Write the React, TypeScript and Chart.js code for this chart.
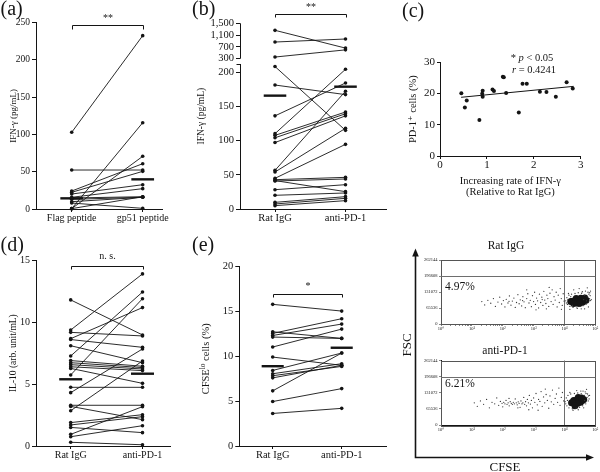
import React, { useEffect, useRef } from 'react';
import { Chart, registerables } from 'chart.js';

Chart.register(...registerables);

const SERIF = "'Liberation Serif', 'Times New Roman', 'DejaVu Serif', serif";
const INK = '#141414';

// ---------------- (a) ----------------
const aCategories = ['Flag peptide', 'gp51 peptide'];
const aFlag = [102.9, 52.3, 24.1, 22.4, 20.1, 15.7, 14.8, 13.0, 9.8, 8.0, 0.5, 0.5, 0.5];
const aGp51 = [232.6, 52.3, 60.8, 50.5, 32.6, 27.3, 16.5, 15.7, 15.7, 0.9, 115.8, 70.7, 16.5];
const aMedian = [14.3, 39.8];
const aYTicks = [0, 50, 100, 150, 200, 250];
const aYLabels = ['0', '50', '100', '150', '200', '250'];

// ---------------- (b) ----------------
const bCategories = ['Rat IgG', 'anti-PD-1'];
const bRat = [1262, 866, 357, 208, 181, 136, 110, 107.5, 104, 97, 56.4, 54, 44.8, 42.8, 40.9, 41.5, 28.2, 20, 9.7, 7.3, 4.9];
const bAnti = [660, 968, 600, 114.8, 167, 184, 204, 141.6, 139, 136, 172, 117.8, 94.4, 46.2, 43.8, 25.3, 35.5, 23.4, 18, 15.6, 12.2];
const bMedian = [165.5, 178.6];
const bYTicks = [0, 50, 100, 150, 200, 300, 700, 1100, 1500];
const bYLabels = ['0', '50', '100', '150', '200', '300', '700', '1,100', '1,500'];

// ---------------- (c) ----------------
const cX = [0.455, 0.53, 0.57, 0.84, 0.91, 0.9, 0.91, 1.12, 1.15, 1.34, 1.36, 1.41, 1.68, 1.76, 1.85, 2.13, 2.27, 2.47, 2.7, 2.83];
const cY = [20.1, 15.5, 17.8, 11.5, 20.9, 19.9, 19.0, 21.3, 20.8, 25.4, 25.2, 20.2, 13.9, 23.1, 23.1, 20.6, 20.5, 19.0, 23.6, 21.6];
const cFitX = [0.45, 2.85];
const cFitY = [18.8, 22.3];
const cXTicks = [0, 1, 2, 3];
const cYTicks = [0, 10, 20, 30];

// ---------------- (d) ----------------
const dRat = [11.8, 9.37, 9.18, 8.67, 8.6, 8.1, 7.27, 6.9, 6.73, 6.57, 6.4, 6.27, 5.74, 4.74, 4.31, 3.29, 3.2, 2.85, 1.89, 1.7, 1.5, 0.94, 0.75, 0.3];
const dAnti = [8.97, 13.9, 8.89, 11.18, 7.97, 6.73, 12.44, 6.44, 6.33, 6.22, 6.09, 5.06, 11.9, 4.74, 7.84, 3.29, 2.13, 6.87, 2.53, 2.37, 1.08, 3.18, 1.64, 0.1];
const dMedian = [5.39, 5.84];
const dYTicks = [0, 5, 10, 15];

// ---------------- (e) ----------------
const eRat = [15.8, 12.74, 12.56, 12.33, 12.15, 11.04, 9.92, 8.43, 8.06, 7.84, 7.6, 6.15, 4.96, 3.63];
const eAnti = [15.05, 12.0, 14.2, 13.6, 12.0, 13.04, 9.0, 10.37, 9.18, 8.88, 9.0, 10.37, 6.4, 4.2];
const eMedian = [8.9, 10.96];
const eYTicks = [0, 5, 10, 15, 20];

// ---------------- flow cytometry ----------------
const flowXTickValues = [1, 10, 100, 1000, 10000, 100000];
const flowXTickLabels = ['10⁰', '10¹', '10²', '10³', '10⁴', '10⁵'];
const flowYTickValues = [0, 65536, 131072, 196608, 262144];
const flowYTickLabels = ['0', '65536', '131072', '196608', '262144'];
const flowGateX = 10000;
const flowGateY = 196608;
const flowTitles = ['Rat IgG', 'anti-PD-1'];
const flowPercents = ['4.97%', '6.21%'];

const flowTopEvents: number[][] = [
  [21, 92000], [26, 78000], [33, 97000], [41, 85000], [50, 104000], [58, 72000], [70, 90000], [80, 110000],
  [92, 82000], [105, 96000], [118, 70000], [130, 101000], [148, 86000], [165, 115000], [185, 77000],
  [205, 94000], [230, 106000], [255, 68000], [280, 88000], [310, 120000], [340, 83000], [370, 99000],
  [410, 74000], [450, 112000], [490, 91000], [540, 67000], [600, 104000], [650, 124000], [710, 86000],
  [780, 97000], [850, 71000], [920, 116000], [1000, 92000], [1080, 130000], [1150, 80000], [1250, 106000],
  [1350, 95000], [1450, 66000], [1550, 122000], [1700, 88000], [1850, 110000], [2000, 76000], [2150, 134000],
  [2300, 98000], [2500, 84000], [2700, 118000], [2900, 104000], [3100, 72000], [3400, 126000], [3700, 92000],
  [4000, 140000], [4300, 80000], [4600, 112000], [5000, 98000], [5400, 130000], [5800, 70000], [6300, 118000],
  [6800, 88000], [7300, 145000], [7900, 104000], [8500, 76000], [9100, 124000], [9700, 94000], [2600, 62000],
  [1200, 58000], [600, 140000], [3200, 150000], [8000, 60000], [160, 93000], [440, 96000], [1900, 100000],
  [11000, 95000], [12000, 108000], [12500, 80000], [14000, 118000], [15000, 72000], [17000, 122000],
  [19000, 68000], [22000, 125000], [25000, 70000], [28000, 128000], [32000, 72000], [36000, 126000],
  [40000, 75000], [45000, 118000], [50000, 80000], [55000, 112000], [60000, 90000], [65000, 104000],
  [70000, 96000], [58000, 130000], [48000, 135000], [13000, 100000], [52000, 95000], [42000, 100000],
  [62000, 122000], [68000, 116000], [74000, 100000], [16000, 112000], [18000, 76000], [38000, 132000],
  [30000, 145000], [55000, 148000], [20000, 140000], [70000, 135000], [45000, 62000], [15000, 60000],
  [11500, 86000], [13500, 125000], [26000, 64000], [60000, 70000], [66000, 128000], [35000, 62000],
];
const flowTopCore: number[][] = [
  [16000, 92000], [19000, 93000], [22000, 88000], [25000, 95000], [28000, 100000], [33000, 94000],
  [38000, 89000], [40000, 101000], [44000, 96000], [50000, 97000], [24000, 104000], [34000, 105000],
  [30000, 84000], [20000, 84000], [46000, 106000],
];
const flowBottomEvents: number[][] = [
  [12, 90000], [15, 76000], [19, 98000], [24, 84000], [30, 104000], [37, 70000], [45, 92000], [55, 86000],
  [64, 110000], [74, 80000], [84, 96000], [95, 88000], [100, 74000], [108, 92000], [118, 86000], [128, 100000],
  [138, 84000], [150, 90000], [162, 78000], [175, 95000], [190, 88000], [205, 84000], [220, 92000], [238, 86000],
  [255, 106000], [275, 90000], [295, 82000], [318, 94000], [340, 88000], [365, 72000], [390, 98000], [420, 86000],
  [450, 90000], [480, 112000], [515, 84000], [550, 95000], [590, 78000], [630, 104000], [680, 90000],
  [730, 120000], [790, 85000], [850, 100000], [920, 70000], [1000, 110000], [1100, 92000], [1200, 128000],
  [1320, 82000], [1450, 104000], [1600, 96000], [1750, 136000], [1900, 76000], [2100, 114000], [2300, 90000],
  [2550, 124000], [2800, 100000], [3100, 68000], [3400, 118000], [3750, 94000], [4100, 142000], [4500, 84000],
  [5000, 108000], [5500, 126000], [6000, 92000], [6600, 150000], [7200, 80000], [7900, 112000], [8600, 132000],
  [9400, 98000], [160, 108000], [310, 70000], [700, 62000], [2400, 146000], [1400, 60000],
  [10500, 95000], [11500, 110000], [12000, 78000], [13000, 120000], [14000, 70000], [16000, 126000],
  [18000, 66000], [21000, 128000], [24000, 68000], [27000, 130000], [31000, 72000], [35000, 127000],
  [39000, 78000], [44000, 120000], [49000, 86000], [54000, 112000], [59000, 98000], [63000, 106000],
  [47000, 135000], [40000, 138000], [56000, 126000], [12500, 100000], [45000, 100000], [34000, 138000],
  [28000, 62000], [11000, 86000], [52000, 145000], [25000, 140000], [60000, 118000],
  [15000, 132000], [42000, 70000], [19000, 60000], [65000, 120000], [13500, 90000], [50000, 128000],
];
const flowBottomCore: number[][] = [
  [17000, 90000], [22000, 84000], [27000, 88000], [33000, 92000], [20000, 100000], [26000, 104000],
  [32000, 108000], [38000, 100000], [24000, 95000], [30000, 96000], [28000, 112000], [22000, 78000],
  [36000, 110000], [42000, 104000],
];

// ---------------- helpers ----------------
type Box = { cw: number; ch: number; left: number; right: number; top: number; bottom: number; xh: number };

function span(p0: number, v0: number, p1: number, v1: number, pa: number, pb: number) {
  const k = (v1 - v0) / (p1 - p0);
  return { min: v0 + (pa - p0) * k, max: v0 + (pb - p0) * k };
}

function layoutFor(b: Box) {
  return { padding: { left: 0, top: b.top, right: b.cw - b.right, bottom: b.ch - b.bottom - b.xh } };
}

const font = (size: number, lineHeight = 1.2) => ({ family: SERIF, size, lineHeight });

function drawText(ctx: CanvasRenderingContext2D, s: string, x: number, y: number, size: number, align: CanvasTextAlign = 'center', style = '') {
  ctx.font = `${style} ${size}px ${SERIF}`;
  ctx.textAlign = align;
  ctx.textBaseline = 'alphabetic';
  ctx.fillStyle = INK;
  ctx.fillText(s, x, y);
}

// parts: [text, style, sizeFactor, rise]
function drawRich(ctx: CanvasRenderingContext2D, parts: any[], cx: number, y: number, size: number) {
  let total = 0;
  parts.forEach(([s, st, f = 1]) => { ctx.font = `${st} ${size * f}px ${SERIF}`; total += ctx.measureText(s).width; });
  let x = cx - total / 2;
  parts.forEach(([s, st, f = 1, rise = 0]) => {
    ctx.font = `${st} ${size * f}px ${SERIF}`;
    ctx.textAlign = 'left';
    ctx.textBaseline = 'alphabetic';
    ctx.fillStyle = INK;
    ctx.fillText(s, x, y - rise);
    x += ctx.measureText(s).width;
  });
}

const half = (v: number) => Math.round(v) + 0.5;

// broken axis for (b)
const B_LOWER_TOP = 211.7;
const B_UPPER_FROM = 300;
const B_UPPER_BASE = 219.4;
const B_UPPER_SCALE = 0.0431;
const bToDisplay = (v: number) => (v <= 250 ? v : B_UPPER_BASE + (v - B_UPPER_FROM) * B_UPPER_SCALE);

function pairedConfig(s: any) {
  const toY = s.toY || ((v: number) => v);
  const xr = span(s.catPx[0], 0, s.catPx[1], 1, s.box.left, s.box.right);
  const datasets: any[] = s.first.map((v: number, i: number) => ({
    data: [{ x: 0, y: toY(v) }, { x: 1, y: toY(s.second[i]) }],
    borderColor: INK,
    borderWidth: 0.9,
    pointRadius: 1.8,
    pointBackgroundColor: INK,
    pointBorderWidth: 0,
    clip: false,
  }));
  s.median.forEach((m: number, i: number) =>
    datasets.push({
      data: [{ x: i - 0.16, y: toY(m) }, { x: i + 0.16, y: toY(m) }],
      borderColor: INK,
      borderWidth: 2.4,
      pointRadius: 0,
      clip: false,
    })
  );
  const titleOpts = s.yTitleParts
    ? { display: false }
    : {
        display: true, text: s.yTitle, color: INK, font: font(s.titleSize),
        padding: { top: s.yTitleX - (s.titleSize * 1.2) / 2, bottom: 0 },
      };
  return {
    type: 'line',
    data: { datasets },
    options: {
      responsive: false,
      animation: false,
      events: [],
      layout: layoutFor(s.box),
      plugins: { legend: { display: false }, tooltip: { enabled: false } },
      scales: {
        x: {
          type: 'linear',
          min: xr.min,
          max: xr.max,
          afterFit: (sc: any) => { sc.height = s.box.xh; },
          afterBuildTicks: (sc: any) => { sc.ticks = [{ value: 0 }, { value: 1 }]; },
          ticks: {
            autoSkip: false, maxRotation: 0, minRotation: 0, padding: 0, color: INK,
            font: font(s.labelSize), callback: (_v: any, i: number) => s.cats[i],
          },
          grid: { display: true, drawOnChartArea: false, drawTicks: true, tickLength: 3, color: INK, lineWidth: 1 },
          border: { display: true, color: INK, width: 1 },
        },
        y: {
          type: 'linear',
          min: s.yMin,
          max: s.yMax,
          afterFit: (sc: any) => { sc.width = s.box.left; },
          afterBuildTicks: (sc: any) => { sc.ticks = s.yTicks.map((v: number) => ({ value: toY(v) })); },
          ticks: {
            autoSkip: false, padding: 2, color: INK, font: font(s.tickSize),
            callback: (_v: any, i: number) => s.yLabels[i],
          },
          grid: { display: true, drawOnChartArea: false, drawTicks: true, tickLength: 4, color: INK, lineWidth: 1 },
          border: { display: s.yBorder !== false, color: INK, width: 1 },
          title: titleOpts,
        },
      },
    },
    plugins: [
      {
        id: 'panelExtras',
        afterDraw: (chart: any) => {
          const ctx = chart.ctx as CanvasRenderingContext2D;
          const xs = chart.scales.x;
          const x0 = half(xs.getPixelForValue(0));
          const x1 = half(xs.getPixelForValue(1));
          ctx.save();
          ctx.strokeStyle = INK;
          ctx.lineWidth = 1;
          ctx.beginPath();
          ctx.moveTo(x0, half(s.bracket[1]));
          ctx.lineTo(x0, half(s.bracket[0]));
          ctx.lineTo(x1, half(s.bracket[0]));
          ctx.lineTo(x1, half(s.bracket[1]));
          ctx.stroke();
          drawText(ctx, s.sig, (x0 + x1) / 2, s.sigY, s.sigSize);
          drawText(ctx, s.letter, s.letterPos[0], s.letterPos[1], 20, 'left');
          if (s.yTitleParts) {
            const a = chart.chartArea;
            ctx.save();
            ctx.translate(s.yTitleX + s.titleSize * 0.33, (a.top + a.bottom) / 2 + s.yTitleShift);
            ctx.rotate(-Math.PI / 2);
            drawRich(ctx, s.yTitleParts, 0, 0, s.titleSize);
            ctx.restore();
          }
          if (s.extra) s.extra(chart, ctx);
          ctx.restore();
        },
      },
    ],
  };
}

function cfgA() {
  return pairedConfig({
    box: { cw: 195, ch: 236, left: 36, right: 162, top: 22.7, bottom: 209, xh: 27 },
    catPx: [71.7, 142.7], cats: aCategories, first: aFlag, second: aGp51, median: aMedian,
    yMin: 0, yMax: 250, yTicks: aYTicks, yLabels: aYLabels,
    yTitle: 'IFN-γ (pg/mL)', yTitleX: 13.3, tickSize: 9.5, labelSize: 10, titleSize: 9,
    bracket: [24.7, 29.3], sig: '**', sigY: 21, sigSize: 10, letter: '(a)', letterPos: [0.5, 14.5],
  });
}

function cfgB() {
  return pairedConfig({
    box: { cw: 200, ch: 236, left: 50, right: 196, top: 23.3, bottom: 209, xh: 27 },
    catPx: [85, 155.5], cats: bCategories, first: bRat, second: bAnti, median: bMedian,
    toY: bToDisplay, yMin: 0, yMax: bToDisplay(1500), yTicks: bYTicks, yLabels: bYLabels, yBorder: false,
    yTitle: 'IFN-γ (pg/mL)', yTitleX: 11.7, tickSize: 10.5, labelSize: 10.5, titleSize: 9.5,
    bracket: [14, 17.3], sig: '**', sigY: 9.6, sigSize: 10, letter: '(b)', letterPos: [2, 14.5],
    extra: (chart: any, ctx: CanvasRenderingContext2D) => {
      const ys = chart.scales.y;
      const x = half(chart.chartArea.left);
      ctx.beginPath();
      ctx.moveTo(x, ys.getPixelForValue(0));
      ctx.lineTo(x, ys.getPixelForValue(B_LOWER_TOP));
      ctx.moveTo(x, ys.getPixelForValue(B_UPPER_BASE));
      ctx.lineTo(x, ys.getPixelForValue(bToDisplay(1500)));
      const yb = half(ys.getPixelForValue(B_LOWER_TOP));
      ctx.moveTo(x - 4, yb);
      ctx.lineTo(x, yb);
      ctx.stroke();
    },
  });
}

function cfgD() {
  return pairedConfig({
    box: { cw: 195, ch: 236, left: 36, right: 170, top: 24.3, bottom: 210, xh: 26 },
    catPx: [70.7, 142.5], cats: bCategories, first: dRat, second: dAnti, median: dMedian,
    yMin: 0, yMax: 15, yTicks: dYTicks, yLabels: dYTicks.map(String),
    yTitle: 'IL-10 (arb. unit/mL)', yTitleX: 13.3, tickSize: 10, labelSize: 10, titleSize: 9.5,
    bracket: [30, 33.3], sig: 'n. s.', sigY: 23, sigSize: 10, letter: '(d)', letterPos: [0.5, 15],
  });
}

function cfgE() {
  return pairedConfig({
    box: { cw: 200, ch: 236, left: 49.3, right: 196, top: 30.7, bottom: 210, xh: 26 },
    catPx: [82.7, 151.7], cats: bCategories, first: eRat, second: eAnti, median: eMedian,
    yTitle: 'CFSElo cells (%)', yTitleParts: [['CFSE', ''], ['lo', '', 0.7, 4], [' cells (%)', '']],
    yMin: 0, yMax: 20, yTicks: eYTicks, yLabels: eYTicks.map(String),
    yTitleX: 16, yTitleShift: 2.5, tickSize: 10.5, labelSize: 10.5, titleSize: 10.5,
    bracket: [58, 61.3], sig: '*', sigY: 53, sigSize: 10, letter: '(e)', letterPos: [2, 15],
  });
}

function cfgC() {
  const box: Box = { cw: 210, ch: 236, left: 50, right: 190.7, top: 62.3, bottom: 156, xh: 80 };
  return {
    type: 'scatter',
    data: {
      datasets: [
        {
          type: 'line',
          data: cFitX.map((x, i) => ({ x, y: cFitY[i] })),
          borderColor: INK, borderWidth: 1, pointRadius: 0, clip: false,
        },
        {
          data: cX.map((x, i) => ({ x, y: cY[i] })),
          pointRadius: 2, pointBackgroundColor: INK, pointBorderWidth: 0, clip: false,
        },
      ],
    },
    options: {
      responsive: false,
      animation: false,
      events: [],
      layout: layoutFor(box),
      plugins: { legend: { display: false }, tooltip: { enabled: false } },
      scales: {
        x: {
          type: 'linear', min: 0, max: 3,
          afterFit: (sc: any) => { sc.height = box.xh; },
          afterBuildTicks: (sc: any) => { sc.ticks = cXTicks.map((v) => ({ value: v })); },
          ticks: { autoSkip: false, maxRotation: 0, padding: 0, color: INK, font: font(11), callback: (v: any) => String(v) },
          grid: { display: true, drawOnChartArea: false, drawTicks: true, tickLength: 3, color: INK },
          border: { display: true, color: INK, width: 1 },
          title: {
            display: true, text: ['Increasing rate of IFN-γ', '(Relative to Rat IgG)'], color: INK,
            font: font(10.5, 1.05), padding: { top: 0, bottom: 236 - 192.7 - 5.5 },
          },
        },
        y: {
          type: 'linear', min: 0, max: 30,
          afterFit: (sc: any) => { sc.width = box.left; },
          afterBuildTicks: (sc: any) => { sc.ticks = cYTicks.map((v) => ({ value: v })); },
          ticks: { autoSkip: false, padding: 2, color: INK, font: font(11), callback: (v: any) => String(v) },
          grid: { display: true, drawOnChartArea: false, drawTicks: true, tickLength: 3, color: INK },
          border: { display: true, color: INK, width: 1 },
          title: { display: true, text: 'PD-1⁺ cells (%)', color: INK, font: font(10.5), padding: { top: 23 - 6.3, bottom: 0 } },
        },
      },
    },
    plugins: [
      {
        id: 'cExtras',
        afterDraw: (chart: any) => {
          const ctx = chart.ctx as CanvasRenderingContext2D;
          ctx.save();
          drawText(ctx, '(c)', 12, 16.5, 20, 'left');
          drawRich(ctx, [['* ', ''], ['p', 'italic'], [' < 0.05', '']], 142, 60.5, 10.5);
          drawRich(ctx, [['r', 'italic'], [' = 0.4241', '']], 144, 72.5, 10.5);
          ctx.restore();
        },
      },
    ],
  };
}

function flowConfig(box: Box, events: number[][], core: number[][], idx: number, textPos: any, bigAxes: boolean) {
  return {
    type: 'scatter',
    data: {
      datasets: [
        {
          data: events.map(([x, y]) => ({ x, y })),
          pointRadius: 0.65, pointBackgroundColor: '#3a3a3a', pointBorderWidth: 0,
        },
        {
          data: core.map(([x, y]) => ({ x, y })),
          pointRadius: 3.5, pointBackgroundColor: INK, pointBorderWidth: 0,
        },
      ],
    },
    options: {
      responsive: false,
      animation: false,
      events: [],
      layout: layoutFor(box),
      plugins: { legend: { display: false }, tooltip: { enabled: false } },
      scales: {
        x: {
          type: 'logarithmic', min: 1, max: 100000,
          afterFit: (sc: any) => { sc.height = box.xh; },
          afterBuildTicks: (sc: any) => {
            const t: any[] = [];
            flowXTickValues.forEach((v, i) => {
              t.push({ value: v, major: true });
              if (i < flowXTickValues.length - 1) for (let k = 2; k <= 9; k++) t.push({ value: v * k });
            });
            sc.ticks = t;
          },
          ticks: {
            autoSkip: false, maxRotation: 0, minRotation: 0, padding: 0, color: INK, font: font(4.5),
            callback: (v: any) => {
              const i = flowXTickValues.indexOf(Number(v));
              return i >= 0 ? flowXTickLabels[i] : '';
            },
          },
          grid: { display: true, drawOnChartArea: false, drawTicks: true, tickLength: 2, color: '#333', lineWidth: 0.6 },
          border: { display: true, color: INK, width: 1 },
        },
        y: {
          type: 'linear', min: 0, max: 262144,
          afterFit: (sc: any) => { sc.width = box.left; },
          afterBuildTicks: (sc: any) => { sc.ticks = flowYTickValues.map((v) => ({ value: v })); },
          ticks: {
            autoSkip: false, padding: 1.5, color: INK, font: font(4.5),
            callback: (_v: any, i: number) => flowYTickLabels[i],
          },
          grid: { display: true, drawOnChartArea: false, drawTicks: true, tickLength: 2, color: '#333', lineWidth: 0.6 },
          border: { display: true, color: INK, width: 1 },
        },
      },
    },
    plugins: [
      {
        id: 'flowFrame',
        beforeDatasetsDraw: (chart: any) => {
          const ctx = chart.ctx as CanvasRenderingContext2D;
          const a = chart.chartArea;
          const { x, y } = chart.scales;
          ctx.save();
          ctx.strokeStyle = '#555';
          ctx.lineWidth = 1;
          ctx.strokeRect(half(a.left), half(a.top), Math.round(a.right - a.left), Math.round(a.bottom - a.top));
          const gx = half(x.getPixelForValue(flowGateX));
          const gy = half(y.getPixelForValue(flowGateY));
          ctx.strokeStyle = '#6e6e6e';
          ctx.beginPath();
          ctx.moveTo(gx, a.top);
          ctx.lineTo(gx, a.bottom);
          ctx.moveTo(a.left, gy);
          ctx.lineTo(a.right, gy);
          ctx.stroke();
          ctx.restore();
        },
        afterDraw: (chart: any) => {
          const ctx = chart.ctx as CanvasRenderingContext2D;
          const a = chart.chartArea;
          ctx.save();
          drawText(ctx, flowTitles[idx], textPos.titleX, textPos.titleY, 11.5);
          drawText(ctx, flowPercents[idx], a.left + 4, textPos.pctY, 11.5, 'left');
          if (bigAxes) {
            ctx.strokeStyle = INK;
            ctx.fillStyle = INK;
            ctx.lineWidth = 1.6;
            ctx.beginPath();
            ctx.moveTo(25.5, 19);
            ctx.lineTo(25.5, 221.5);
            ctx.lineTo(197, 221.5);
            ctx.stroke();
            ctx.beginPath();
            ctx.moveTo(25.5, 12.5);
            ctx.lineTo(22.2, 20.5);
            ctx.lineTo(28.8, 20.5);
            ctx.closePath();
            ctx.fill();
            ctx.beginPath();
            ctx.moveTo(204, 221.5);
            ctx.lineTo(196, 218.2);
            ctx.lineTo(196, 224.8);
            ctx.closePath();
            ctx.fill();
            ctx.save();
            ctx.translate(20.7, 109);
            ctx.rotate(-Math.PI / 2);
            drawText(ctx, 'FSC', 0, 0, 13);
            ctx.restore();
            drawText(ctx, 'CFSE', 115, 234.5, 13);
          }
          ctx.restore();
        },
      },
    ],
  };
}

function cfgF1() {
  return flowConfig({ cw: 210, ch: 236, left: 51, right: 205.3, top: 24, bottom: 88, xh: 8 },
    flowTopEvents, flowTopCore, 0, { titleX: 116, titleY: 13.3, pctY: 54 }, true);
}

function cfgF2() {
  return flowConfig({ cw: 210, ch: 236, left: 51, right: 205.3, top: 124.5, bottom: 189, xh: 8 },
    flowBottomEvents, flowBottomCore, 1, { titleX: 115, titleY: 118.3, pctY: 151.3 }, false);
}

const PANELS = [
  { key: 'a', x: 0, y: 0, w: 195, h: 236, make: cfgA },
  { key: 'b', x: 190, y: 0, w: 200, h: 236, make: cfgB },
  { key: 'c', x: 390, y: 0, w: 210, h: 236, make: cfgC },
  { key: 'd', x: 0, y: 236, w: 195, h: 236, make: cfgD },
  { key: 'e', x: 190, y: 236, w: 200, h: 236, make: cfgE },
  { key: 'f1', x: 390, y: 236, w: 210, h: 236, make: cfgF1 },
  { key: 'f2', x: 390, y: 236, w: 210, h: 236, make: cfgF2 },
];

export default function App() {
  const refs = useRef<(HTMLCanvasElement | null)[]>([]);
  useEffect(() => {
    const charts = PANELS.map((p, i) => new Chart(refs.current[i] as HTMLCanvasElement, p.make() as any));
    return () => charts.forEach((c) => c.destroy());
  }, []);
  return (
    <div style={{ position: 'absolute', left: 0, top: 0, width: 600, height: 472, background: '#fff', overflow: 'hidden' }}>
      {PANELS.map((p, i) => (
        <canvas
          key={p.key}
          ref={(el) => { refs.current[i] = el; }}
          width={p.w}
          height={p.h}
          style={{ position: 'absolute', left: p.x, top: p.y, width: p.w, height: p.h }}
        />
      ))}
    </div>
  );
}
